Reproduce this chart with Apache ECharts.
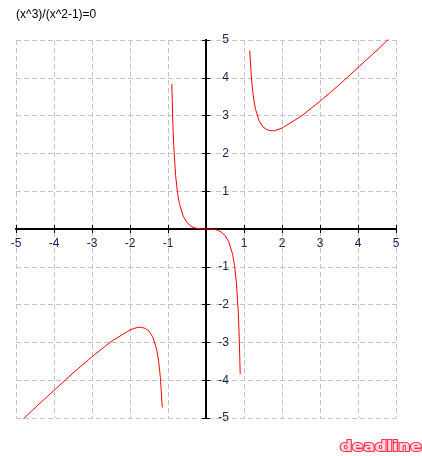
<!DOCTYPE html>
<html>
<head>
<meta charset="utf-8">
<script src="https://cdn.jsdelivr.net/npm/echarts@6/dist/echarts.min.js"></script>
<style>
html,body{margin:0;padding:0;background:#fff;}
#c{width:422px;height:456px;}
</style>
</head>
<body>
<div id="c"></div>
<script>
// Values
var titleText = '(x^3)/(x^2-1)=0';
var ticks = [-5, -4, -3, -2, -1, 0, 1, 2, 3, 4, 5];

var x1 = [-5, -4.5, -4, -3.5, -3, -2.5, -2, -1.8, -1.7, -1.6, -1.5, -1.4, -1.3, -1.25, -1.2, -1.15];
var y1 = [-5.21, -4.73, -4.27, -3.81, -3.38, -2.98, -2.67, -2.60, -2.60, -2.63, -2.70, -2.86, -3.18, -3.47, -3.93, -4.72];

var x2 = [-0.9, -0.875, -0.85, -0.8, -0.75, -0.7, -0.6, -0.5, -0.4, -0.3, -0.2, -0.1, 0, 0.1, 0.2, 0.3, 0.4, 0.5, 0.6, 0.7, 0.75, 0.8, 0.85, 0.875, 0.9];
var y2 = [3.84, 2.88, 2.21, 1.42, 0.96, 0.67, 0.34, 0.17, 0.08, 0.03, 0.01, 0.00, 0, 0.00, -0.01, -0.03, -0.08, -0.17, -0.34, -0.67, -0.96, -1.42, -2.21, -2.88, -3.84];

var x3 = [1.15, 1.2, 1.25, 1.3, 1.4, 1.5, 1.6, 1.7, 1.8, 2, 2.5, 3, 3.5, 4, 4.5, 5];
var y3 = [4.72, 3.93, 3.47, 3.18, 2.86, 2.70, 2.63, 2.60, 2.60, 2.67, 2.98, 3.38, 3.81, 4.27, 4.73, 5.21];

function pairs(xs, ys) { return xs.map(function (v, i) { return [v, ys[i]]; }); }

var labelColor = '#1c1c5a';
var axisMin = ticks[0], axisMax = ticks[ticks.length - 1];
function fmt(v) { return v === 0 ? '' : String(v); }

var W = 422, H = 456;
var G = {left: 16, right: 26, top: 40, bottom: 38};
var gw = W - G.left - G.right, gh = H - G.top - G.bottom;
// shift axes from the grid edge to the value 0
var offX = -gh * (0 - axisMin) / (axisMax - axisMin);
var offY = -gw * (0 - axisMin) / (axisMax - axisMin);

var chart = echarts.init(document.getElementById('c'), null, {renderer: 'canvas'});
var common = {type: 'value', min: axisMin, max: axisMax, interval: 1};
var lineSt = {onZero: false, lineStyle: {color: '#000', width: 2}};
var tickSt = {show: true, inside: false, length: 4, lineStyle: {color: '#000', width: 1}};
var gridSt = {show: true, lineStyle: {color: '#c4c4c4', type: [5, 3], width: 1}};
var font = 'Liberation Sans';

chart.setOption({
  animation: false,
  backgroundColor: '#ffffff',
  title: {
    text: titleText, left: 16, top: 9, padding: 0,
    textStyle: {fontSize: 12, fontWeight: 'normal', color: '#000', fontFamily: font}
  },
  grid: {left: G.left, right: G.right, top: G.top, bottom: G.bottom, containLabel: false},
  xAxis: [
    Object.assign({}, common, {
      position: 'bottom', offset: offX,
      axisLine: lineSt, axisTick: tickSt,
      axisLabel: {color: labelColor, fontSize: 12, fontFamily: font, margin: 9, formatter: fmt, showMinLabel: true, showMaxLabel: true},
      splitLine: {show: false}
    }),
    Object.assign({}, common, {
      position: 'top', offset: offX,
      axisLine: lineSt, axisTick: tickSt,
      axisLabel: {show: false},
      splitLine: gridSt
    })
  ],
  yAxis: [
    Object.assign({}, common, {
      position: 'left', offset: offY,
      axisLine: lineSt, axisTick: tickSt,
      axisLabel: {show: false},
      splitLine: gridSt
    }),
    Object.assign({}, common, {
      position: 'right', offset: offY,
      axisLine: lineSt, axisTick: tickSt,
      axisLabel: {color: labelColor, fontSize: 12, fontFamily: font, margin: 23, align: 'right', formatter: fmt, showMinLabel: true, showMaxLabel: true},
      splitLine: {show: false}
    })
  ],
  series: [
    {type: 'line', xAxisIndex: 0, yAxisIndex: 0, data: pairs(x1, y1), showSymbol: false, clip: true, lineStyle: {color: '#ff0000', width: 1}, z: 5},
    {type: 'line', xAxisIndex: 0, yAxisIndex: 0, data: pairs(x2, y2), showSymbol: false, clip: true, lineStyle: {color: '#ff0000', width: 1}, z: 5},
    {type: 'line', xAxisIndex: 0, yAxisIndex: 0, data: pairs(x3, y3), showSymbol: false, clip: true, lineStyle: {color: '#ff0000', width: 1}, z: 5}
  ],
  graphic: [{
    type: 'text', x: 340, y: 440, scaleX: 1.2, silent: true,
    style: {text: 'deadline', font: 'bold 14px "DejaVu Sans"', fill: '#ffdce2', stroke: '#ff3050', lineWidth: 2}
  }]
});
</script>
</body>
</html>
